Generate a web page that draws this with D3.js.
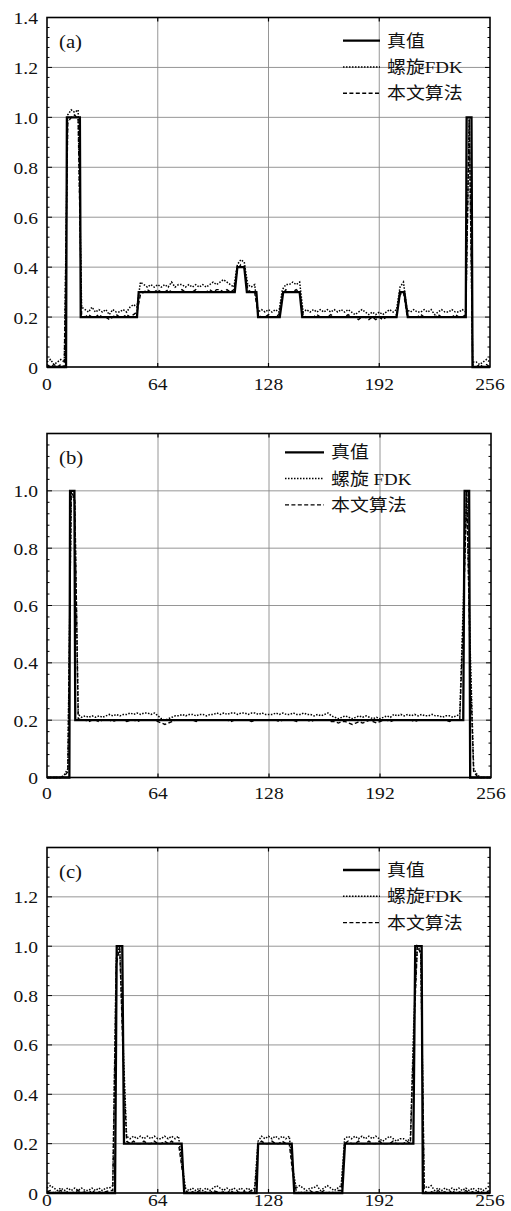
<!DOCTYPE html>
<html>
<head>
<meta charset="utf-8">
<script src="https://cdn.jsdelivr.net/npm/d3@7"></script>
<style>
    body { margin: 0; background: #fff; }
    svg { display: block; }
    text { font-family: "Liberation Serif", "Noto Sans CJK SC", serif; fill: #111; }
</style>
</head>
<body>
<svg id="chart" width="511" height="1211"></svg>
<script>
// sample positions of the reconstructed profiles (pixel index along the line)
const sampleX = d3.range(0, 257, 2)
const xTicks = [0, 64, 128, 192, 256]

// ---- (a)
const truthA = [[0, 0], [11, 0], [11.5, 1], [19, 1], [19.5, 0.2], [52, 0.2], [53, 0.3], [108.5, 0.3], [110, 0.4],
    [114, 0.4], [115.5, 0.3], [121, 0.3], [122, 0.2], [134.5, 0.2], [136.5, 0.3], [146, 0.3], [147.5, 0.2],
    [202, 0.2], [204, 0.3], [206.5, 0.3], [208.5, 0.2], [242, 0.2], [242.5, 1], [245.3, 1], [245.9, 0], [256, 0]]
const fdkA = [
    0.02, 0.03, 0.01, 0.02, 0.03, 0.02, 1.01, 1.03, 1.02, 1.03,
    0.24, 0.23, 0.22, 0.24, 0.22, 0.23, 0.22, 0.23, 0.21, 0.23,
    0.22, 0.22, 0.23, 0.22, 0.24, 0.25, 0.24, 0.34, 0.33, 0.32,
    0.33, 0.32, 0.33, 0.32, 0.33, 0.32, 0.34, 0.32, 0.33, 0.33,
    0.32, 0.33, 0.32, 0.33, 0.32, 0.33, 0.32, 0.33, 0.34, 0.33,
    0.34, 0.35, 0.34, 0.33, 0.32, 0.41, 0.43, 0.42, 0.33, 0.32,
    0.33, 0.22, 0.23, 0.22, 0.23, 0.22, 0.23, 0.22, 0.31, 0.33,
    0.33, 0.34, 0.33, 0.34, 0.22, 0.23, 0.22, 0.23, 0.22, 0.23,
    0.22, 0.23, 0.22, 0.23, 0.22, 0.23, 0.22, 0.23, 0.22, 0.21,
    0.22, 0.23, 0.22, 0.21, 0.22, 0.21, 0.22, 0.21, 0.22, 0.23,
    0.22, 0.23, 0.32, 0.34, 0.23, 0.22, 0.23, 0.22, 0.22, 0.23,
    0.22, 0.23, 0.21, 0.22, 0.23, 0.22, 0.22, 0.23, 0.22, 0.22,
    0.23, 0.22, 1.0, 0.02, 0.02, 0.01, 0.02, 0.03, 0.02]
const oursA = [
    0.01, 0, 0.01, 0, 0.01, 0, 0.98, 1.0, 1.01, 0.99,
    0.21, 0.2, 0.21, 0.2, 0.2, 0.21, 0.2, 0.2, 0.19, 0.2,
    0.21, 0.2, 0.2, 0.21, 0.2, 0.21, 0.22, 0.29, 0.3, 0.31,
    0.3, 0.3, 0.31, 0.3, 0.3, 0.31, 0.3, 0.3, 0.3, 0.31,
    0.3, 0.3, 0.3, 0.31, 0.3, 0.3, 0.3, 0.31, 0.3, 0.31,
    0.31, 0.3, 0.31, 0.3, 0.31, 0.39, 0.41, 0.4, 0.31, 0.3,
    0.3, 0.21, 0.2, 0.2, 0.21, 0.2, 0.2, 0.21, 0.29, 0.31,
    0.3, 0.3, 0.31, 0.3, 0.21, 0.2, 0.2, 0.2, 0.21, 0.2,
    0.2, 0.2, 0.21, 0.2, 0.2, 0.2, 0.2, 0.21, 0.2, 0.2,
    0.19, 0.2, 0.2, 0.19, 0.2, 0.19, 0.2, 0.19, 0.2, 0.2,
    0.2, 0.21, 0.29, 0.3, 0.21, 0.2, 0.2, 0.2, 0.21, 0.2,
    0.2, 0.2, 0.2, 0.21, 0.2, 0.2, 0.2, 0.2, 0.21, 0.2,
    0.2, 0.21, 0.99, 0.01, 0, 0.01, 0, 0.01, 0]
const yLabelsA = [0, 0.2, 0.4, 0.6, 0.8, 1.0, 1.2, 1.4]
const legendA = ["真值", "螺旋FDK", "本文算法"]

// ---- (b)
const truthB = [[0, 0], [12.9, 0], [13.3, 1], [15.8, 1], [16.3, 0.2], [240, 0.2], [240.8, 1], [243.4, 1], [244, 0], [256, 0]]
const fdkB = [
    0, 0, 0, 0, 0, 0.01, 0.03, 1.0, 0.96, 0.22,
    0.21, 0.215, 0.21, 0.215, 0.21, 0.215, 0.21, 0.215, 0.22, 0.215,
    0.22, 0.215, 0.22, 0.22, 0.225, 0.22, 0.225, 0.22, 0.225, 0.225,
    0.22, 0.225, 0.215, 0.205, 0.2, 0.205, 0.21, 0.215, 0.215, 0.22,
    0.215, 0.22, 0.22, 0.215, 0.22, 0.22, 0.215, 0.22, 0.22, 0.225,
    0.22, 0.225, 0.22, 0.225, 0.225, 0.22, 0.225, 0.225, 0.22, 0.225,
    0.225, 0.22, 0.225, 0.22, 0.22, 0.22, 0.225, 0.22, 0.225, 0.22,
    0.22, 0.225, 0.22, 0.22, 0.225, 0.22, 0.22, 0.215, 0.22, 0.215,
    0.22, 0.225, 0.215, 0.21, 0.205, 0.21, 0.215, 0.21, 0.205, 0.21,
    0.215, 0.21, 0.215, 0.21, 0.205, 0.21, 0.205, 0.21, 0.215, 0.21,
    0.22, 0.215, 0.22, 0.215, 0.22, 0.215, 0.22, 0.215, 0.22, 0.215,
    0.215, 0.22, 0.215, 0.215, 0.21, 0.215, 0.215, 0.21, 0.215, 0.22,
    0.6, 1.0, 0.45, 0.03, 0.01, 0, 0, 0, 0]
const oursB = [
    0, 0, 0, 0, 0, 0.005, 0.02, 1.0, 0.97, 0.205,
    0.2, 0.2, 0.195, 0.2, 0.2, 0.195, 0.2, 0.2, 0.2, 0.195,
    0.2, 0.2, 0.2, 0.195, 0.2, 0.2, 0.195, 0.2, 0.2, 0.2,
    0.2, 0.2, 0.195, 0.19, 0.185, 0.19, 0.195, 0.2, 0.2, 0.2,
    0.2, 0.2, 0.2, 0.195, 0.2, 0.2, 0.2, 0.2, 0.2, 0.2,
    0.2, 0.2, 0.2, 0.195, 0.2, 0.2, 0.2, 0.2, 0.2, 0.195,
    0.2, 0.2, 0.2, 0.2, 0.2, 0.2, 0.2, 0.195, 0.2, 0.2,
    0.2, 0.2, 0.195, 0.2, 0.2, 0.2, 0.195, 0.2, 0.2, 0.2,
    0.2, 0.2, 0.195, 0.195, 0.19, 0.195, 0.195, 0.19, 0.185, 0.19,
    0.195, 0.19, 0.195, 0.2, 0.195, 0.19, 0.195, 0.2, 0.2, 0.195,
    0.2, 0.2, 0.2, 0.2, 0.2, 0.2, 0.195, 0.2, 0.2, 0.2,
    0.2, 0.2, 0.2, 0.2, 0.2, 0.2, 0.195, 0.2, 0.2, 0.205,
    0.55, 1.0, 0.4, 0.02, 0.005, 0, 0, 0, 0]
const yLabelsB = [0, 0.2, 0.4, 0.6, 0.8, 1.0]
const legendB = ["真值", "螺旋 FDK", "本文算法"]

// ---- (c)
const truthC = [[0, 0], [39.3, 0], [40.3, 1], [43.5, 1], [44.5, 0.2], [77.8, 0.2], [79.3, 0], [121.1, 0], [122, 0.2],
    [141.4, 0.2], [142.9, 0], [170.6, 0], [172.2, 0.2], [211.7, 0.2], [212.8, 1], [216.5, 1], [217.2, 0], [256, 0]]
const fdkC = [
    0.02, 0.03, 0.02, 0.01, 0.02, 0.01, 0.02, 0.01, 0.02, 0.01,
    0.02, 0.01, 0.01, 0.02, 0.01, 0.02, 0.01, 0.02, 0.02, 0.03,
    0.95, 1.0, 0.6, 0.23, 0.22, 0.23, 0.22, 0.23, 0.22, 0.23,
    0.22, 0.23, 0.22, 0.22, 0.23, 0.22, 0.23, 0.22, 0.23, 0.12,
    0.02, 0.01, 0.02, 0.01, 0.02, 0.01, 0.02, 0.01, 0.02, 0.03,
    0.02, 0.01, 0.02, 0.01, 0.02, 0.01, 0.02, 0.01, 0.02, 0.01,
    0.02, 0.21, 0.23, 0.22, 0.23, 0.22, 0.23, 0.22, 0.23, 0.22,
    0.23, 0.1, 0.02, 0.03, 0.02, 0.01, 0.02, 0.02, 0.03, 0.01,
    0.02, 0.03, 0.02, 0.01, 0.02, 0.03, 0.22, 0.23, 0.22, 0.23,
    0.22, 0.23, 0.22, 0.23, 0.22, 0.23, 0.22, 0.21, 0.22, 0.23,
    0.22, 0.21, 0.22, 0.22, 0.21, 0.22, 0.7, 1.0, 0.98, 0.03,
    0.02, 0.03, 0.01, 0.02, 0.01, 0.02, 0.01, 0.02, 0.01, 0.02,
    0.01, 0.02, 0.01, 0.02, 0.01, 0.02, 0.01, 0.02, 0.03]
const oursC = [
    0.005, 0.01, 0, 0.005, 0.01, 0, 0.005, 0, 0.005, 0.01,
    0, 0.005, 0, 0.01, 0, 0.005, 0, 0.005, 0.01, 0.01,
    0.92, 1.0, 0.55, 0.21, 0.2, 0.21, 0.2, 0.2, 0.21, 0.2,
    0.2, 0.21, 0.2, 0.2, 0.21, 0.2, 0.21, 0.2, 0.2, 0.1,
    0.01, 0, 0.005, 0, 0.01, 0, 0.005, 0, 0.01, 0.005,
    0, 0.005, 0, 0.01, 0, 0.005, 0, 0.005, 0, 0.01,
    0.005, 0.2, 0.21, 0.2, 0.2, 0.21, 0.2, 0.2, 0.21, 0.2,
    0.2, 0.08, 0.01, 0, 0.005, 0, 0.01, 0, 0.005, 0,
    0.01, 0, 0.005, 0, 0.01, 0.01, 0.2, 0.21, 0.2, 0.2,
    0.21, 0.2, 0.2, 0.21, 0.2, 0.2, 0.21, 0.2, 0.2, 0.2,
    0.21, 0.2, 0.2, 0.2, 0.21, 0.2, 0.65, 1.0, 0.97, 0.01,
    0, 0.005, 0, 0.01, 0, 0.005, 0, 0.01, 0, 0.005,
    0, 0.01, 0, 0.005, 0, 0.01, 0, 0.005, 0.01]
const yLabelsC = [0, 0.2, 0.4, 0.6, 0.8, 1.0, 1.2]
const legendC = ["真值", "螺旋FDK", "本文算法"]

const panels = [
    { tag: "(a)", truth: truthA, fdk: fdkA, ours: oursA, yMax: 1.4, yLabels: yLabelsA, names: legendA,
        top: 17.5, bottom: 367, left: 47, right: 490, xLabelDy: 23, legX: 343, legY: 40.7, legLen: 37 },
    { tag: "(b)", truth: truthB, fdk: fdkB, ours: oursB, yMax: 1.2, yLabels: yLabelsB, names: legendB,
        top: 433.5, bottom: 777.5, left: 47, right: 491, xLabelDy: 21, legX: 285, legY: 452.3, legLen: 39 },
    { tag: "(c)", truth: truthC, fdk: fdkC, ours: oursC, yMax: 1.4, yLabels: yLabelsC, names: legendC,
        top: 847.5, bottom: 1193, left: 47, right: 490, xLabelDy: 13, legX: 343, legY: 870, legLen: 37 }
]

const lineStyles = [
    { width: 2.3, dash: null },
    { width: 1.5, dash: "1.5,1.5" },
    { width: 1.4, dash: "4,2.4" }
]

const svg = d3.select("#chart")
const tickFont = 17
const stretch = 1.15
const fmt = v => v === 0 ? "0" : d3.format(".1f")(v)

function label(g, x, y, str, anchor, size, sx) {
    g.append("text")
        .attr("transform", "translate(" + x + "," + y + ") scale(" + sx + ",1)")
        .attr("text-anchor", anchor)
        .style("font-size", size + "px")
        .text(str)
}

panels.forEach(p => {
    const g = svg.append("g")

    const x = d3.scaleLinear().domain([0, 256]).range([p.left, p.right])
    const y = d3.scaleLinear().domain([0, p.yMax]).range([p.bottom, p.top])

    // grid
    g.selectAll(".vgrid").data(xTicks.slice(1, -1)).join("line")
        .attr("x1", d => x(d)).attr("x2", d => x(d))
        .attr("y1", p.top).attr("y2", p.bottom)
        .attr("stroke", "#8a8a8a").attr("stroke-width", 0.9)
    const hGrid = d3.range(1, Math.round(p.yMax / 0.2)).map(i => i * 0.2)
    g.selectAll(".hgrid").data(hGrid).join("line")
        .attr("x1", p.left).attr("x2", p.right)
        .attr("y1", d => y(d)).attr("y2", d => y(d))
        .attr("stroke", "#8a8a8a").attr("stroke-width", 0.9)

    // profiles
    const line = d3.line().x(d => x(d[0])).y(d => y(d[1]))
    const series = [
        p.truth,
        sampleX.map((v, i) => [v, p.fdk[i]]),
        sampleX.map((v, i) => [v, p.ours[i]])
    ]
    const drawOrder = [1, 2, 0]
    drawOrder.forEach(k => {
        g.append("path")
            .datum(series[k])
            .attr("d", line)
            .attr("fill", "none")
            .attr("stroke", "#000")
            .attr("stroke-width", lineStyles[k].width)
            .attr("stroke-dasharray", lineStyles[k].dash)
            .attr("stroke-linejoin", "miter")
    })

    // minor / major ticks on left and right
    const minor = d3.range(0, Math.round(p.yMax / 0.04) + 1).map(i => i * 0.04)
    minor.forEach((v, i) => {
        const len = i % 5 === 0 ? 5 : 2.5
        g.append("line")
            .attr("x1", p.left).attr("x2", p.left + len)
            .attr("y1", y(v)).attr("y2", y(v))
            .attr("stroke", "#000").attr("stroke-width", 1)
        g.append("line")
            .attr("x1", p.right).attr("x2", p.right - len)
            .attr("y1", y(v)).attr("y2", y(v))
            .attr("stroke", "#000").attr("stroke-width", 1)
    })
    xTicks.slice(1, -1).forEach(v => {
        g.append("line")
            .attr("x1", x(v)).attr("x2", x(v))
            .attr("y1", p.bottom).attr("y2", p.bottom - 4)
            .attr("stroke", "#000").attr("stroke-width", 1.2)
        g.append("line")
            .attr("x1", x(v)).attr("x2", x(v))
            .attr("y1", p.top).attr("y2", p.top + 4)
            .attr("stroke", "#000").attr("stroke-width", 1.2)
    })

    // frame
    g.append("rect")
        .attr("x", p.left).attr("y", p.top)
        .attr("width", p.right - p.left).attr("height", p.bottom - p.top)
        .attr("fill", "none").attr("stroke", "#000").attr("stroke-width", 1.6)

    // tick labels
    p.yLabels.forEach(v => label(g, p.left - 9, y(v) + 6.5, fmt(v), "end", tickFont, stretch))
    xTicks.forEach(v => label(g, x(v), p.bottom + p.xLabelDy, v, "middle", tickFont, stretch))

    // panel tag
    label(g, p.left + 12, p.top + 30, p.tag, "start", 18.5, 1.12)

    // legend
    p.names.forEach((name, i) => {
        const ly = p.legY + i * 26.3
        g.append("line")
            .attr("x1", p.legX).attr("x2", p.legX + p.legLen)
            .attr("y1", ly).attr("y2", ly)
            .attr("stroke", "#000")
            .attr("stroke-width", lineStyles[i].width)
            .attr("stroke-dasharray", lineStyles[i].dash)
        label(g, p.legX + p.legLen + 7, ly + 6, name, "start", 17.5, 1.08)
    })
})
</script>
</body>
</html>
